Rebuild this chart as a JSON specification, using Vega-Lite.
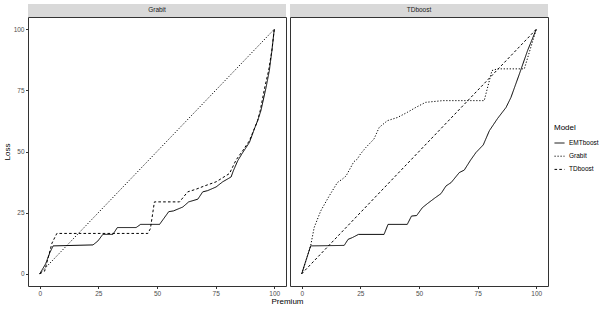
{
  "$schema": "https://vega.github.io/schema/vega-lite/v6.json",
  "padding": {"left": 3, "top": 3, "right": 5, "bottom": 3},
  "bounds": "flush",
  "spacing": 4,
  "background": "white",
  "config": {
    "font": "Liberation Sans",
    "view": {"stroke": "#333333", "strokeWidth": 1},
    "axis": {"grid": false, "domain": false, "tickColor": "#333333", "tickSize": 2.5, "labelFontSize": 6.5, "labelColor": "#4D4D4D", "titleFontSize": 8, "titleFontWeight": 400, "titleColor": "#000000", "labelPadding": 1.5},
    "legend": {"orient": "none", "legendX": 526, "legendY": 107, "padding": 0, "titleFontSize": 8, "titleFontWeight": 400, "titleColor": "#000000", "labelFontSize": 6.5, "labelColor": "#000000", "symbolType": "stroke", "symbolSize": 100, "symbolStrokeWidth": 1, "symbolStrokeColor": "#000000", "rowPadding": 4.2, "labelOffset": 4, "titlePadding": 5.5}
  },
  "datasets": {
    "curves": [
      {"panel": "Grabit", "model": "EMTboost", "x": 0, "y": 0},
      {"panel": "Grabit", "model": "EMTboost", "x": 0.7, "y": 1.1},
      {"panel": "Grabit", "model": "EMTboost", "x": 2.5, "y": 4},
      {"panel": "Grabit", "model": "EMTboost", "x": 4.3, "y": 8.6},
      {"panel": "Grabit", "model": "EMTboost", "x": 5.7, "y": 11.4},
      {"panel": "Grabit", "model": "EMTboost", "x": 22.7, "y": 11.8},
      {"panel": "Grabit", "model": "EMTboost", "x": 24.8, "y": 13.4},
      {"panel": "Grabit", "model": "EMTboost", "x": 26.9, "y": 16.1},
      {"panel": "Grabit", "model": "EMTboost", "x": 31.2, "y": 16.1},
      {"panel": "Grabit", "model": "EMTboost", "x": 33.1, "y": 18.9},
      {"panel": "Grabit", "model": "EMTboost", "x": 41.1, "y": 18.9},
      {"panel": "Grabit", "model": "EMTboost", "x": 43, "y": 20.2},
      {"panel": "Grabit", "model": "EMTboost", "x": 51.1, "y": 20.2},
      {"panel": "Grabit", "model": "EMTboost", "x": 55, "y": 25.4},
      {"panel": "Grabit", "model": "EMTboost", "x": 57, "y": 25.7},
      {"panel": "Grabit", "model": "EMTboost", "x": 61, "y": 27.3},
      {"panel": "Grabit", "model": "EMTboost", "x": 63.5, "y": 29.4},
      {"panel": "Grabit", "model": "EMTboost", "x": 67.4, "y": 30.5},
      {"panel": "Grabit", "model": "EMTboost", "x": 69.5, "y": 33.5},
      {"panel": "Grabit", "model": "EMTboost", "x": 71.6, "y": 34},
      {"panel": "Grabit", "model": "EMTboost", "x": 75.2, "y": 35.5},
      {"panel": "Grabit", "model": "EMTboost", "x": 78, "y": 37.6},
      {"panel": "Grabit", "model": "EMTboost", "x": 81.6, "y": 39.6},
      {"panel": "Grabit", "model": "EMTboost", "x": 82.5, "y": 42},
      {"panel": "Grabit", "model": "EMTboost", "x": 84.4, "y": 46.2},
      {"panel": "Grabit", "model": "EMTboost", "x": 86.5, "y": 49.5},
      {"panel": "Grabit", "model": "EMTboost", "x": 89.4, "y": 53.7},
      {"panel": "Grabit", "model": "EMTboost", "x": 91.5, "y": 59.2},
      {"panel": "Grabit", "model": "EMTboost", "x": 92.9, "y": 62.6},
      {"panel": "Grabit", "model": "EMTboost", "x": 94.3, "y": 66.7},
      {"panel": "Grabit", "model": "EMTboost", "x": 96.5, "y": 76.2},
      {"panel": "Grabit", "model": "EMTboost", "x": 97.9, "y": 83.1},
      {"panel": "Grabit", "model": "EMTboost", "x": 99, "y": 91.3},
      {"panel": "Grabit", "model": "EMTboost", "x": 100, "y": 100},
      {"panel": "Grabit", "model": "Grabit", "x": 0, "y": 0},
      {"panel": "Grabit", "model": "Grabit", "x": 100, "y": 100},
      {"panel": "Grabit", "model": "TDboost", "x": 0, "y": 0},
      {"panel": "Grabit", "model": "TDboost", "x": 2.1, "y": 1.1},
      {"panel": "Grabit", "model": "TDboost", "x": 5.2, "y": 12.5},
      {"panel": "Grabit", "model": "TDboost", "x": 7.3, "y": 16.5},
      {"panel": "Grabit", "model": "TDboost", "x": 46.1, "y": 16.5},
      {"panel": "Grabit", "model": "TDboost", "x": 47.2, "y": 18.5},
      {"panel": "Grabit", "model": "TDboost", "x": 48.9, "y": 29.4},
      {"panel": "Grabit", "model": "TDboost", "x": 59.6, "y": 29.4},
      {"panel": "Grabit", "model": "TDboost", "x": 63.1, "y": 33.5},
      {"panel": "Grabit", "model": "TDboost", "x": 66.7, "y": 34.6},
      {"panel": "Grabit", "model": "TDboost", "x": 70.2, "y": 35.9},
      {"panel": "Grabit", "model": "TDboost", "x": 75.2, "y": 37.6},
      {"panel": "Grabit", "model": "TDboost", "x": 80.9, "y": 41},
      {"panel": "Grabit", "model": "TDboost", "x": 83.7, "y": 46.5},
      {"panel": "Grabit", "model": "TDboost", "x": 86.5, "y": 50.3},
      {"panel": "Grabit", "model": "TDboost", "x": 89.4, "y": 54.4},
      {"panel": "Grabit", "model": "TDboost", "x": 92.9, "y": 62.6},
      {"panel": "Grabit", "model": "TDboost", "x": 94, "y": 66.7},
      {"panel": "Grabit", "model": "TDboost", "x": 96, "y": 76.5},
      {"panel": "Grabit", "model": "TDboost", "x": 97.6, "y": 83.1},
      {"panel": "Grabit", "model": "TDboost", "x": 99, "y": 91.5},
      {"panel": "Grabit", "model": "TDboost", "x": 100, "y": 100},
      {"panel": "TDboost", "model": "EMTboost", "x": 0, "y": 0},
      {"panel": "TDboost", "model": "EMTboost", "x": 3.8, "y": 11.4},
      {"panel": "TDboost", "model": "EMTboost", "x": 18.1, "y": 11.6},
      {"panel": "TDboost", "model": "EMTboost", "x": 19.8, "y": 14.1},
      {"panel": "TDboost", "model": "EMTboost", "x": 21.6, "y": 14.8},
      {"panel": "TDboost", "model": "EMTboost", "x": 24.2, "y": 16.1},
      {"panel": "TDboost", "model": "EMTboost", "x": 35.1, "y": 16.1},
      {"panel": "TDboost", "model": "EMTboost", "x": 36.8, "y": 20.2},
      {"panel": "TDboost", "model": "EMTboost", "x": 45, "y": 20.2},
      {"panel": "TDboost", "model": "EMTboost", "x": 46.8, "y": 23.6},
      {"panel": "TDboost", "model": "EMTboost", "x": 49, "y": 23.8},
      {"panel": "TDboost", "model": "EMTboost", "x": 51.4, "y": 27},
      {"panel": "TDboost", "model": "EMTboost", "x": 53.6, "y": 28.7},
      {"panel": "TDboost", "model": "EMTboost", "x": 56.5, "y": 30.8},
      {"panel": "TDboost", "model": "EMTboost", "x": 59.4, "y": 32.8},
      {"panel": "TDboost", "model": "EMTboost", "x": 61.5, "y": 35.9},
      {"panel": "TDboost", "model": "EMTboost", "x": 63.7, "y": 37.3},
      {"panel": "TDboost", "model": "EMTboost", "x": 67.2, "y": 41.4},
      {"panel": "TDboost", "model": "EMTboost", "x": 69.3, "y": 42.4},
      {"panel": "TDboost", "model": "EMTboost", "x": 72, "y": 46.5},
      {"panel": "TDboost", "model": "EMTboost", "x": 74.3, "y": 49.6},
      {"panel": "TDboost", "model": "EMTboost", "x": 77.4, "y": 52.7},
      {"panel": "TDboost", "model": "EMTboost", "x": 80, "y": 58.5},
      {"panel": "TDboost", "model": "EMTboost", "x": 83.5, "y": 63.5},
      {"panel": "TDboost", "model": "EMTboost", "x": 87.1, "y": 68},
      {"panel": "TDboost", "model": "EMTboost", "x": 89.2, "y": 72.1},
      {"panel": "TDboost", "model": "EMTboost", "x": 92.8, "y": 81.7},
      {"panel": "TDboost", "model": "EMTboost", "x": 96.3, "y": 91.3},
      {"panel": "TDboost", "model": "EMTboost", "x": 100, "y": 100},
      {"panel": "TDboost", "model": "Grabit", "x": 0, "y": 0},
      {"panel": "TDboost", "model": "Grabit", "x": 3.8, "y": 11.4},
      {"panel": "TDboost", "model": "Grabit", "x": 5.3, "y": 18.9},
      {"panel": "TDboost", "model": "Grabit", "x": 8.1, "y": 25.7},
      {"panel": "TDboost", "model": "Grabit", "x": 11.7, "y": 31.8},
      {"panel": "TDboost", "model": "Grabit", "x": 15.2, "y": 37.3},
      {"panel": "TDboost", "model": "Grabit", "x": 17.3, "y": 38.7},
      {"panel": "TDboost", "model": "Grabit", "x": 18.9, "y": 40},
      {"panel": "TDboost", "model": "Grabit", "x": 20.9, "y": 43.5},
      {"panel": "TDboost", "model": "Grabit", "x": 22.2, "y": 45.8},
      {"panel": "TDboost", "model": "Grabit", "x": 23.7, "y": 46.9},
      {"panel": "TDboost", "model": "Grabit", "x": 25, "y": 48.9},
      {"panel": "TDboost", "model": "Grabit", "x": 27.3, "y": 51.6},
      {"panel": "TDboost", "model": "Grabit", "x": 30.8, "y": 55.1},
      {"panel": "TDboost", "model": "Grabit", "x": 33, "y": 59.8},
      {"panel": "TDboost", "model": "Grabit", "x": 36.5, "y": 62.6},
      {"panel": "TDboost", "model": "Grabit", "x": 40.8, "y": 63.9},
      {"panel": "TDboost", "model": "Grabit", "x": 45, "y": 66},
      {"panel": "TDboost", "model": "Grabit", "x": 48.6, "y": 68},
      {"panel": "TDboost", "model": "Grabit", "x": 52.8, "y": 70.1},
      {"panel": "TDboost", "model": "Grabit", "x": 60.1, "y": 70.8},
      {"panel": "TDboost", "model": "Grabit", "x": 77.8, "y": 70.8},
      {"panel": "TDboost", "model": "Grabit", "x": 81.1, "y": 83.1},
      {"panel": "TDboost", "model": "Grabit", "x": 83.5, "y": 83.8},
      {"panel": "TDboost", "model": "Grabit", "x": 94.9, "y": 83.8},
      {"panel": "TDboost", "model": "Grabit", "x": 100, "y": 100},
      {"panel": "TDboost", "model": "TDboost", "x": 0, "y": 0},
      {"panel": "TDboost", "model": "TDboost", "x": 100, "y": 100}
    ]
  },
  "hconcat": [
    {
      "width": 258,
      "height": 269,
      "layer": [
        {
          "data": {"name": "curves"},
          "transform": [{"filter": "datum.panel === 'Grabit'"}],
          "mark": {"type": "line", "color": "#000000", "strokeWidth": 1},
          "encoding": {
            "x": {"field": "x", "type": "quantitative", "scale": {"domain": [-5, 105], "nice": false, "zero": false}, "axis": {"title": "Premium", "values": [0, 25, 50, 75, 100], "titleX": 259, "titleAlign": "center", "titlePadding": 1, "titleFontWeight": 400}},
            "y": {"field": "y", "type": "quantitative", "scale": {"domain": [-5, 105], "nice": false, "zero": false}, "axis": {"title": "Loss", "values": [0, 25, 50, 75, 100], "titlePadding": 1.5, "titleFontWeight": 400}},
            "strokeDash": {"field": "model", "type": "nominal", "title": "Model", "scale": {"domain": ["EMTboost", "Grabit", "TDboost"], "range": [[1, 0], [1.2, 1.8], [2.6, 2.2]]}},
            "order": {"field": "x", "type": "quantitative"}
          }
        },
        {
          "data": {"values": [{"panel": "Grabit"}]},
          "mark": {"type": "rect", "fill": "#D9D9D9", "clip": false},
          "encoding": {"x": {"datum": -5}, "x2": {"datum": 105}, "y": {"datum": 105}, "y2": {"datum": 110.33}}
        },
        {
          "data": {"values": [{"panel": "Grabit"}]},
          "mark": {"type": "text", "fontSize": 6.5, "color": "#1A1A1A", "baseline": "middle", "align": "center", "clip": false},
          "encoding": {"x": {"datum": 50}, "y": {"datum": 107.67}, "text": {"field": "panel"}}
        }
      ]
    },
    {
      "width": 258,
      "height": 269,
      "layer": [
        {
          "data": {"name": "curves"},
          "transform": [{"filter": "datum.panel === 'TDboost'"}],
          "mark": {"type": "line", "color": "#000000", "strokeWidth": 1},
          "encoding": {
            "x": {"field": "x", "type": "quantitative", "scale": {"domain": [-5, 105], "nice": false, "zero": false}, "axis": {"title": null, "values": [0, 25, 50, 75, 100]}},
            "y": {"field": "y", "type": "quantitative", "scale": {"domain": [-5, 105], "nice": false, "zero": false}, "axis": null},
            "strokeDash": {"field": "model", "type": "nominal", "title": "Model", "scale": {"domain": ["EMTboost", "Grabit", "TDboost"], "range": [[1, 0], [1.2, 1.8], [2.6, 2.2]]}},
            "order": {"field": "x", "type": "quantitative"}
          }
        },
        {
          "data": {"values": [{"panel": "TDboost"}]},
          "mark": {"type": "rect", "fill": "#D9D9D9", "clip": false},
          "encoding": {"x": {"datum": -5}, "x2": {"datum": 105}, "y": {"datum": 105}, "y2": {"datum": 110.33}}
        },
        {
          "data": {"values": [{"panel": "TDboost"}]},
          "mark": {"type": "text", "fontSize": 6.5, "color": "#1A1A1A", "baseline": "middle", "align": "center", "clip": false},
          "encoding": {"x": {"datum": 50}, "y": {"datum": 107.67}, "text": {"field": "panel"}}
        }
      ]
    }
  ],
  "resolve": {"scale": {"strokeDash": "shared"}, "legend": {"strokeDash": "shared"}}
}
